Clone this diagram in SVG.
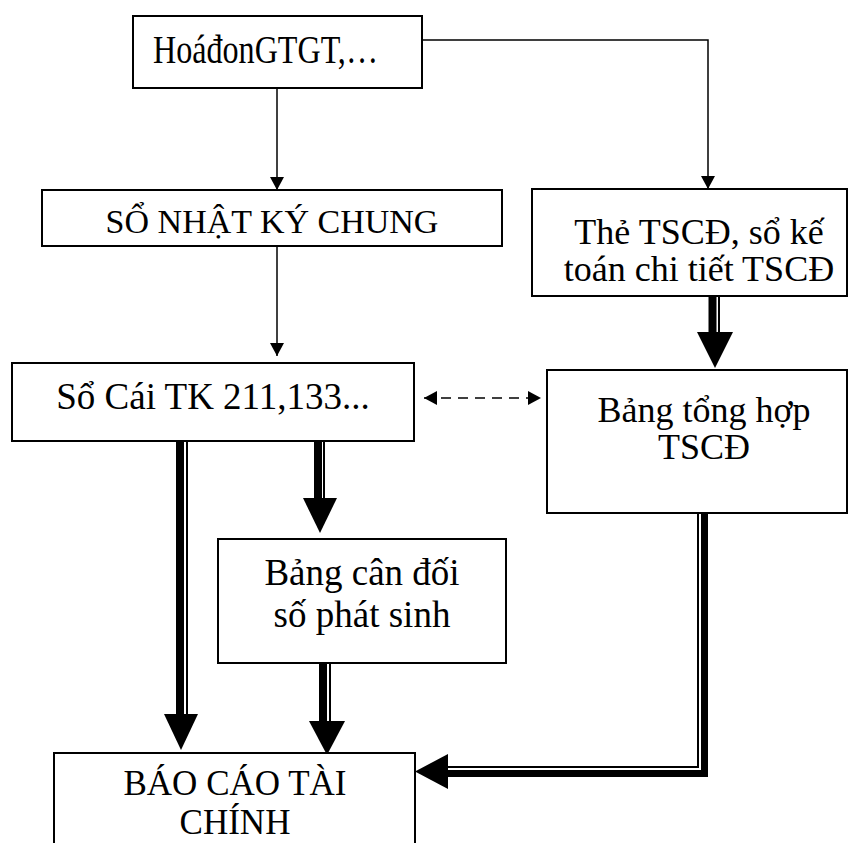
<svg xmlns="http://www.w3.org/2000/svg" width="849" height="843" viewBox="0 0 849 843">
  <defs>
    <style>
      .box { fill: #fff; stroke: #000; stroke-width: 2; }
      .lbl { font-family: "Liberation Serif", "Times New Roman", serif; fill: #000; text-anchor: middle; }
      .thin { fill: none; stroke: #000; stroke-width: 1.5; }
      .dash { fill: none; stroke: #000; stroke-width: 1.5; stroke-dasharray: 10 7; }
      .heavy { fill: none; stroke: #000; }
      .head { fill: #000; stroke: none; }
    </style>
    <marker id="tip" markerWidth="14" markerHeight="14" refX="13" refY="7" orient="auto" markerUnits="userSpaceOnUse">
      <path d="M0,0 L13,7 L0,14 Z" fill="#000"/>
    </marker>
    <marker id="tipStart" markerWidth="14" markerHeight="14" refX="1" refY="7" orient="auto" markerUnits="userSpaceOnUse">
      <path d="M14,0 L1,7 L14,14 Z" fill="#000"/>
    </marker>
  </defs>

  <rect width="849" height="843" fill="#fff"/>

  <!-- connectors -->
  <g id="connectors">
    <!-- invoice to general journal -->
    <path class="thin" d="M277,88 V190" marker-end="url(#tip)"/>
    <!-- invoice to asset cards -->
    <path class="thin" d="M422,40 H708 V189" marker-end="url(#tip)"/>
    <!-- general journal to ledger -->
    <path class="thin" d="M277,246 V356" marker-end="url(#tip)"/>
    <!-- ledger <-> asset summary -->
    <path class="dash" d="M424,398 H541" marker-start="url(#tipStart)" marker-end="url(#tip)"/>

    <!-- asset cards to asset summary (double line, heavy left) -->
    <path class="heavy" stroke-width="8" d="M712.5,296 V333"/>
    <path class="heavy" stroke-width="2" d="M719,296 V333"/>
    <polygon class="head" points="697,332 733,332 715,368"/>

    <!-- ledger to trial balance -->
    <path class="heavy" stroke-width="8" d="M318,441 V499"/>
    <path class="heavy" stroke-width="2" d="M324,441 V499"/>
    <polygon class="head" points="303,498 337,498 320,533"/>

    <!-- ledger to financial statements -->
    <path class="heavy" stroke-width="8" d="M180,441 V715"/>
    <path class="heavy" stroke-width="2" d="M187,441 V715"/>
    <polygon class="head" points="164,714 198,714 181,750"/>

    <!-- trial balance to financial statements -->
    <path class="heavy" stroke-width="8" d="M323,663 V722"/>
    <path class="heavy" stroke-width="2" d="M330,663 V722"/>
    <polygon class="head" points="309,721 345,721 327,755"/>

    <!-- asset summary to financial statements (double line, heavy outer) -->
    <path class="heavy" stroke-width="2" d="M698,513 V767 H446"/>
    <path class="heavy" stroke-width="7" d="M704.5,513 V773.5 H446"/>
    <polygon class="head" points="448,754 448,789 415,771.5"/>
  </g>

  <g id="node-invoice">
    <rect class="box" x="133" y="16" width="289" height="72"/>
    <text class="lbl" x="153" y="63" font-size="41" style="text-anchor:start" textLength="225" lengthAdjust="spacingAndGlyphs">HoáđonGTGT,…</text>
  </g>

  <g id="node-journal">
    <rect class="box" x="42" y="190" width="460" height="56"/>
    <text class="lbl" x="272" y="233" font-size="34">SỔ NHẬT KÝ CHUNG</text>
  </g>

  <g id="node-asset-cards">
    <rect class="box" x="532" y="189" width="315" height="107"/>
    <text class="lbl" x="699" y="244" font-size="36">Thẻ TSCĐ, sổ kế</text>
    <text class="lbl" x="699" y="281" font-size="36">toán chi tiết TSCĐ</text>
  </g>

  <g id="node-ledger">
    <rect class="box" x="12" y="363" width="402" height="78"/>
    <text class="lbl" x="213" y="409" font-size="37">Sổ Cái TK 211,133...</text>
  </g>

  <g id="node-asset-summary">
    <rect class="box" x="547" y="370" width="300" height="143"/>
    <text class="lbl" x="704" y="422" font-size="36">Bảng tổng hợp</text>
    <text class="lbl" x="704" y="459" font-size="36">TSCĐ</text>
  </g>

  <g id="node-trial-balance">
    <rect class="box" x="218" y="539" width="288" height="124"/>
    <text class="lbl" x="362" y="585" font-size="37">Bảng cân đối</text>
    <text class="lbl" x="362" y="627" font-size="37">số phát sinh</text>
  </g>

  <g id="node-statements">
    <rect class="box" x="54" y="753" width="361" height="110"/>
    <text class="lbl" x="235" y="795" font-size="35">BÁO CÁO TÀI</text>
    <text class="lbl" x="235" y="834" font-size="35">CHÍNH</text>
  </g>
</svg>
